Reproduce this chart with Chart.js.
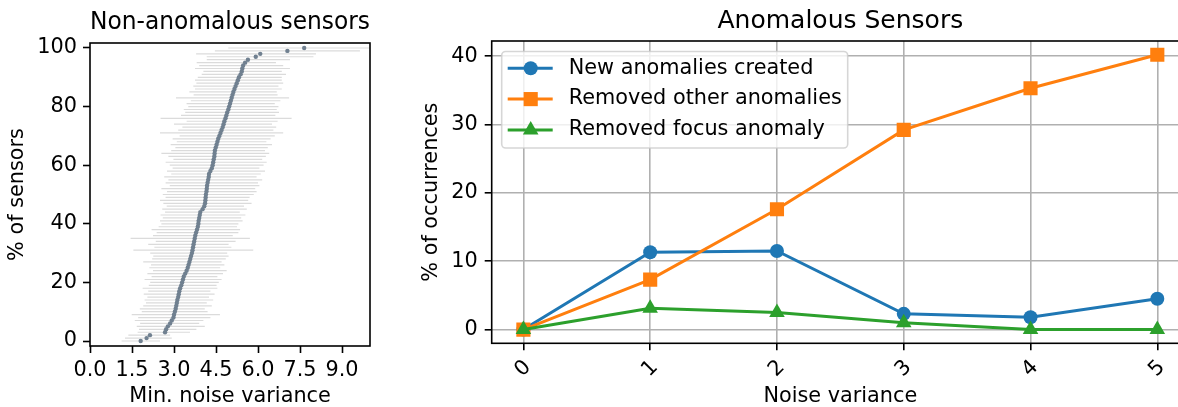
<!DOCTYPE html>
<html>
<head>
<meta charset="utf-8">
<script src="https://cdn.jsdelivr.net/npm/chart.js"></script>
<style>
  html, body { margin: 0; padding: 0; background: #fff; overflow: hidden; width: 1178px; height: 407px; }
  canvas { position: absolute; top: 0; }
</style>
</head>
<body>
<canvas id="leftChart" width="400" height="412" style="left:0px"></canvas>
<canvas id="rightChart" width="880" height="412" style="left:400px"></canvas>
<script>
  // left panel: one entry per sensor, sorted by minimum noise variance
  const minVar = [
    1.81, 2.02, 2.14, 2.68, 2.72, 2.78, 2.86, 2.92, 2.98, 3.00,
    3.03, 3.06, 3.08, 3.10, 3.12, 3.15, 3.17, 3.19, 3.22, 3.26,
    3.29, 3.32, 3.35, 3.40, 3.45, 3.49, 3.52, 3.55, 3.58, 3.61,
    3.64, 3.66, 3.68, 3.70, 3.72, 3.74, 3.76, 3.79, 3.82, 3.85,
    3.87, 3.88, 3.90, 3.92, 3.94, 4.02, 4.08, 4.11, 4.12, 4.13,
    4.14, 4.16, 4.17, 4.18, 4.20, 4.22, 4.24, 4.25, 4.30, 4.35,
    4.38, 4.40, 4.42, 4.44, 4.45, 4.46, 4.49, 4.52, 4.55, 4.58,
    4.62, 4.66, 4.70, 4.74, 4.77, 4.80, 4.84, 4.87, 4.90, 4.94,
    4.97, 5.00, 5.03, 5.06, 5.09, 5.12, 5.16, 5.20, 5.24, 5.28,
    5.32, 5.38, 5.42, 5.44, 5.47, 5.54, 5.64, 5.92, 6.08, 7.05,
    7.65
  ];
  const rangeLo = [
    1.13, 1.25, 1.37, 1.70, 1.75, 1.67, 1.79, 1.60, 1.72, 1.49,
    1.85, 1.78, 1.90, 2.00, 1.95, 2.05, 1.92, 2.08, 1.88, 2.10,
    2.15, 1.95, 2.20, 2.05, 2.25, 2.12, 2.18, 1.90, 2.22, 2.26,
    2.15, 1.55, 2.30, 2.08, 2.35, 1.45, 2.25, 2.38, 2.20, 2.45,
    2.55, 2.50, 2.60, 2.52, 2.68, 2.58, 2.74, 2.62, 2.50, 2.70,
    2.60, 2.75, 2.55, 2.85, 2.70, 2.80, 2.65, 2.90, 2.75, 2.95,
    2.85, 2.70, 2.98, 2.80, 2.55, 2.90, 3.05, 2.88, 3.10, 2.95,
    3.20, 2.50, 3.15, 3.30, 3.00, 3.45, 2.52, 3.25, 3.40, 3.35,
    3.51, 3.45, 3.60, 3.07, 3.70, 3.55, 3.75, 3.69, 3.80, 3.75,
    3.85, 3.99, 4.05, 3.75, 3.90, 3.81, 4.17, 4.17, 3.79, 4.46,
    4.94
  ];
  const rangeHi = [
    2.50, 2.92, 2.86, 3.57, 3.80, 4.10, 3.90, 4.05, 4.30, 4.64,
    4.20, 4.10, 4.35, 4.17, 4.40, 4.25, 4.45, 4.30, 4.55, 4.52,
    4.60, 4.70, 4.55, 4.75, 4.88, 4.65, 4.80, 4.70, 4.85, 4.95,
    4.90, 5.83, 5.05, 4.95, 5.20, 5.71, 5.10, 5.30, 5.36, 5.25,
    5.30, 5.45, 5.40, 5.55, 5.35, 5.60, 5.50, 5.77, 5.65, 5.70,
    5.85, 5.95, 5.90, 6.05, 6.00, 6.15, 5.95, 6.10, 6.25, 6.05,
    6.20, 6.31, 6.15, 6.28, 6.40, 6.25, 6.35, 6.50, 6.30, 6.45,
    6.60, 6.90, 6.55, 6.65, 6.50, 6.70, 7.20, 6.62, 6.75, 6.67,
    6.73, 6.60, 6.80, 7.11, 6.70, 6.67, 6.85, 6.73, 6.90, 6.85,
    6.85, 7.00, 6.85, 7.14, 6.90, 6.64, 7.14, 7.98, 8.07, 9.64,
    10.5
  ];

  // right panel
  const noiseVariance = [0, 1, 2, 3, 4, 5];
  const newAnomalies = [0, 11.3, 11.5, 2.3, 1.8, 4.5];
  const removedOther = [0, 7.3, 17.6, 29.2, 35.3, 40.2];
  const removedFocus = [0, 3.1, 2.5, 1.0, 0, 0];
  const seriesLabels = ['New anomalies created', 'Removed other anomalies', 'Removed focus anomaly'];

  Chart.defaults.font.family = "'DejaVu Sans', sans-serif";
  Chart.defaults.font.size = 20.8;
  Chart.defaults.color = '#000';

  // % of sensors = rank of the sensor in the sorted list
  const pct = minVar.map((_, i) => i * 100 / (minVar.length - 1));
  const points = minVar.map((x, i) => ({ x: x, y: pct[i] }));
  const segs = [];
  rangeLo.forEach((lo, i) => {
    segs.push({ x: lo, y: pct[i] }, { x: rangeHi[i], y: pct[i] }, { x: NaN, y: NaN });
  });

  const frame = {
    id: 'frame',
    afterDatasetsDraw(chart) {
      const { ctx, chartArea: a } = chart;
      ctx.save();
      ctx.strokeStyle = '#000';
      ctx.lineWidth = 1.6;
      ctx.strokeRect(a.left, a.top, a.right - a.left, a.bottom - a.top);
      ctx.restore();
    }
  };

  new Chart(document.getElementById('leftChart'), {
    type: 'scatter',
    data: {
      datasets: [
        { label: 'min', data: points, pointRadius: 2.2, pointBorderWidth: 0,
          pointBackgroundColor: '#708090', order: 1 },
        { label: 'range', data: segs, showLine: true, spanGaps: false, pointRadius: 0,
          borderColor: 'rgba(200,200,200,0.65)', borderWidth: 1.2, order: 2 }
      ]
    },
    options: {
      responsive: false,
      animation: false,
      events: [],
      layout: { padding: { left: 0, right: 30, top: 0, bottom: 0 } },
      plugins: {
        legend: { display: false },
        tooltip: { enabled: false },
        title: { display: true, fullSize: false, text: 'Non-anomalous sensors', font: { size: 25, weight: 'normal' },
                 color: '#000', padding: { top: 7.5, bottom: 5.5 } }
      },
      scales: {
        x: {
          type: 'linear', min: 0, max: 10,
          afterFit: s => { s.height = 66; },
          border: { display: false },
          grid: { drawOnChartArea: false, tickLength: 7, tickColor: '#000', tickWidth: 1.6 },
          ticks: { stepSize: 1.5, includeBounds: false, padding: 5, maxRotation: 0,
                   callback: v => v.toFixed(1) },
          title: { display: true, text: 'Min. noise variance', padding: { top: 0, bottom: 2.5 } }
        },
        y: {
          min: -1.7, max: 101.7,
          afterFit: s => { s.width = 90; },
          border: { display: false },
          grid: { drawOnChartArea: false, tickLength: 7, tickColor: '#000', tickWidth: 1.6 },
          ticks: { stepSize: 20, includeBounds: false, padding: 6 },
          title: { display: true, text: '% of sensors', padding: { top: 5.5, bottom: 0 } }
        }
      }
    },
    plugins: [frame]
  });

  const boxLegend = {
    id: 'boxLegend',
    afterDraw(chart) {
      const { ctx, chartArea: a } = chart;
      const x0 = a.left + 10, y0 = a.top + 10.5;
      ctx.save();
      ctx.beginPath();
      ctx.roundRect(x0, y0, 346, 96.5, 4);
      ctx.fillStyle = 'rgba(255,255,255,0.8)';
      ctx.fill();
      ctx.strokeStyle = 'rgba(204,204,204,0.8)';
      ctx.lineWidth = 1.6;
      ctx.stroke();
      chart.data.datasets.forEach((ds, i) => {
        const y = y0 + 16.8 + i * 30.8;
        ctx.strokeStyle = ds.borderColor;
        ctx.fillStyle = ds.backgroundColor;
        ctx.lineWidth = ds.borderWidth;
        ctx.beginPath();
        ctx.moveTo(x0 + 6, y);
        ctx.lineTo(x0 + 51, y);
        ctx.stroke();
        Chart.helpers.drawPoint(ctx, { pointStyle: ds.pointStyle, radius: ds.pointRadius, borderWidth: 0, rotation: 0 }, x0 + 29, y);
        ctx.fillStyle = '#000';
        ctx.font = "20.8px 'DejaVu Sans', sans-serif";
        ctx.textBaseline = 'middle';
        ctx.textAlign = 'left';
        ctx.fillText(ds.label, x0 + 67, y);
      });
      ctx.restore();
    }
  };

  const xy = arr => arr.map((v, i) => ({ x: noiseVariance[i], y: v }));

  new Chart(document.getElementById('rightChart'), {
    type: 'line',
    data: {
      datasets: [
        { label: seriesLabels[0], data: xy(newAnomalies), borderColor: '#1f77b4', backgroundColor: '#1f77b4',
          pointBackgroundColor: '#1f77b4', pointStyle: 'circle', pointRadius: 7, pointBorderWidth: 0,
          borderWidth: 3, order: 3 },
        { label: seriesLabels[1], data: xy(removedOther), borderColor: '#ff7f0e', backgroundColor: '#ff7f0e',
          pointBackgroundColor: '#ff7f0e', pointStyle: 'rect', pointRadius: 10, pointBorderWidth: 0,
          borderWidth: 3, order: 2 },
        { label: seriesLabels[2], data: xy(removedFocus), borderColor: '#2ca02c', backgroundColor: '#2ca02c',
          pointBackgroundColor: '#2ca02c', pointStyle: 'triangle', pointRadius: 9, pointBorderWidth: 0,
          borderWidth: 3, order: 1 }
      ]
    },
    options: {
      responsive: false,
      animation: false,
      events: [],
      layout: { padding: { left: 0, right: 91, top: 0, bottom: 0 } },
      plugins: {
        legend: { display: false },
        tooltip: { enabled: false },
        title: { display: true, fullSize: false, text: 'Anomalous Sensors', font: { size: 25, weight: 'normal' },
                 color: '#000', padding: { top: 6.3, bottom: 4.7 } }
      },
      scales: {
        x: {
          type: 'linear', min: -0.25, max: 5.25,
          afterFit: s => { s.height = 68.7; },
          border: { display: false },
          grid: { color: '#b0b0b0', lineWidth: 1.6, tickLength: 7, tickColor: '#000', tickWidth: 1.6 },
          ticks: { stepSize: 1, includeBounds: false, minRotation: 45, maxRotation: 45,
                   padding: 5, labelOffset: 4.5 },
          title: { display: true, text: 'Noise variance', padding: { top: 0, bottom: 2.5 } }
        },
        y: {
          min: -2.01, max: 42.21,
          afterFit: s => { s.width = 91.7; },
          border: { display: false },
          grid: { color: '#b0b0b0', lineWidth: 1.6, tickLength: 7, tickColor: '#000', tickWidth: 1.6 },
          ticks: { stepSize: 10, includeBounds: false, padding: 7 },
          title: { display: true, text: '% of occurrences', padding: { top: 19.5, bottom: 0 } }
        }
      }
    },
    plugins: [frame, boxLegend]
  });
</script>
</body>
</html>
